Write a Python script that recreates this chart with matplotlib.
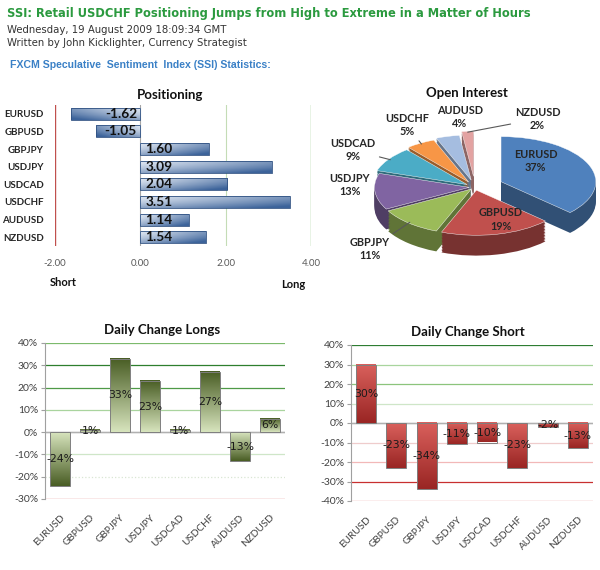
import numpy as np
import matplotlib
matplotlib.use('Agg')
import matplotlib.pyplot as plt
from matplotlib.colors import to_rgb

pairs = ['EURUSD', 'GBPUSD', 'GBPJPY', 'USDJPY', 'USDCAD', 'USDCHF', 'AUDUSD', 'NZDUSD']
positioning = [-1.62, -1.05, 1.60, 3.09, 2.04, 3.51, 1.14, 1.54]
open_interest = [37, 19, 11, 13, 9, 5, 4, 2]
change_longs = [-24, 1, 33, 23, 1, 27, -13, 6]
change_short = [30, -23, -34, -11, -10, -23, -2, -13]

pos_ticks = [-2, 0, 2, 4]
longs_ticks = [-30, -20, -10, 0, 10, 20, 30, 40]
short_ticks = [-40, -30, -20, -10, 0, 10, 20, 30, 40]

W, H = 600, 570
fig = plt.figure(figsize=(W / 100, H / 100), dpi=100)


def fx(px):
    return px / W


def fy(px):
    return 1 - px / H


def box(x0, y0, x1, y1):
    # pixel box (top-left origin) -> figure rect
    return [fx(x0), fy(y1), (x1 - x0) / W, (y1 - y0) / H]


def lerp_img(c0, c1, a):
    c0 = np.array(to_rgb(c0))
    c1 = np.array(to_rgb(c1))
    a = np.clip(a, 0, 1)[..., None]
    return c0 + (c1 - c0) * a


CHART_FONT = ['Lato', 'DejaVu Sans']

# ---- header ----
fig.text(fx(7), fy(13), 'SSI: Retail USDCHF Positioning Jumps from High to Extreme in a Matter of Hours',
         fontsize=8.3, fontweight='bold', color='#2b9a3f', va='center', family='DejaVu Sans')
fig.text(fx(7), fy(30), 'Wednesday, 19 August 2009 18:09:34 GMT', fontsize=7.3, color='#333333',
         va='center', family='DejaVu Sans')
fig.text(fx(7), fy(43), 'Written by John Kicklighter, Currency Strategist', fontsize=7.3,
         color='#333333', va='center', family='DejaVu Sans')
fig.text(fx(10), fy(65), 'FXCM Speculative  Sentiment  Index (SSI) Statistics:', fontsize=7.6,
         fontweight='bold', color='#3a80c6', va='center', family='Liberation Sans')

# ---- positioning ----
axp = fig.add_axes(box(55, 105, 311, 246))
ypos = np.arange(len(pairs))[::-1]
bh = 0.68
for y, v in zip(ypos, positioning):
    left, right = min(0, v), max(0, v)
    tx = np.linspace(0, 1, 60)
    if v < 0:
        tx = tx[::-1]
    ty = np.linspace(1, 0, 20)
    a = 0.1 + 0.55 * tx[None, :] + 0.45 * ty[:, None] ** 1.5
    axp.imshow(lerp_img('#eef3fa', '#3c639a', a), extent=[left, right, y - bh / 2, y + bh / 2],
               origin='lower', aspect='auto', zorder=2, interpolation='bilinear')
axp.barh(ypos, positioning, height=bh, color='none', edgecolor='#2f5182', lw=0.6, zorder=3)
for y, v in zip(ypos, positioning):
    if v < 0:
        axp.text(-0.08, y, f'{v:.2f}', ha='right', va='center', fontsize=9.8, fontweight='bold',
                 color='#111111', zorder=4, family=CHART_FONT)
    else:
        axp.text(0.12, y, f'{v:.2f}', ha='left', va='center', fontsize=9.8, fontweight='bold',
                 color='#111111', zorder=4, family=CHART_FONT)
axp.axvline(-2, color='#c0504d', lw=1.0, zorder=1)
axp.axvline(0, color='#a6a6a6', lw=0.8, zorder=1)
axp.axvline(2, color='#c4dcb6', lw=0.8, zorder=1)
axp.axvline(4, color='#8cc47c', lw=1.0, zorder=1)
axp.set_xlim(-2, 4)
axp.set_ylim(-0.5, len(pairs) - 0.5)
axp.set_xticks(pos_ticks)
axp.set_xticklabels([f'{t:.2f}' for t in pos_ticks], fontsize=7, color='#595959', family=CHART_FONT)
axp.set_yticks(ypos)
axp.set_yticklabels(pairs, fontsize=7, fontweight='bold', color='#262626', family=CHART_FONT)
axp.tick_params(length=0)
axp.tick_params(axis='x', pad=9)
axp.tick_params(axis='y', pad=8)
for s in axp.spines.values():
    s.set_visible(False)
fig.text(fx(170), fy(95), 'Positioning', fontsize=9.5, fontweight='bold', ha='center', va='center',
         color='#111111', family=CHART_FONT)
fig.text(fx(63), fy(282), 'Short', fontsize=8, fontweight='bold', ha='center', va='center',
         color='#111111', family=CHART_FONT)
fig.text(fx(293), fy(284), 'Long', fontsize=8, fontweight='bold', ha='center', va='center',
         color='#111111', family=CHART_FONT)

# ---- open interest pie ----
axo = fig.add_axes(box(330, 91, 600, 285))
pie_colors = ['#4f81bd', '#c0504d', '#9bbb59', '#8064a2', '#4bacc6', '#f79646', '#a5bde0', '#e3a3a2']
side_colors = [tuple(np.array(to_rgb(c)) * 0.62) for c in pie_colors]
explode = [0.3, 0.07, 0.06, 0.06, 0.1, 0.13, 0.16, 0.24]
depth = 0.45
for d in np.linspace(depth, 0.02, 14):
    axo.pie(open_interest, colors=side_colors, explode=explode, startangle=90, counterclock=False,
            center=(0, -d), wedgeprops=dict(linewidth=0))
wedges, _ = axo.pie(open_interest, colors=pie_colors, explode=explode, startangle=90,
                    counterclock=False, center=(0, 0), wedgeprops=dict(linewidth=0.3, edgecolor='#ffffff'))
label_xy = [(0.64, 0.58), (0.27, -0.72), (-1.11, -1.38), (-1.32, 0.04),
            (-1.29, 0.82), (-0.72, 1.38), (-0.16, 1.55), (0.66, 1.51)]
leader = [False, False, True, False, True, True, False, True]
for w, name, val, xy, ld in zip(wedges, pairs, open_interest, label_xy, leader):
    txt = f'{name}\n{val}%'
    kw = dict(ha='center', va='center', fontsize=7.8, fontweight='bold', color='#262626',
              family=CHART_FONT, linespacing=1.25)
    if ld:
        mid = np.deg2rad((w.theta1 + w.theta2) / 2)
        cx, cy = w.center
        axo.annotate(txt, xy=(cx + 0.98 * np.cos(mid), cy + 0.98 * np.sin(mid)), xytext=xy,
                     arrowprops=dict(arrowstyle='-', color='#595959', lw=0.8, shrinkA=1, shrinkB=0),
                     **kw)
    else:
        axo.text(xy[0], xy[1], txt, **kw)
axo.set_aspect('auto')
axo.set_xlim(-1.53, 1.32)
axo.set_ylim(-2.17, 2.13)
axo.axis('off')
fig.text(fx(467), fy(93), 'Open Interest', fontsize=9.5, fontweight='bold', ha='center', va='center',
         color='#111111', family=CHART_FONT)


# ---- daily change charts ----
def change_chart(ax, values, ticks, grid_colors, light, dark, top_light):
    x = np.arange(len(values))
    bw = 0.66
    for xi, v in zip(x, values):
        ty = np.linspace(0, 1, 40)
        if top_light:
            a = 1 - ty
        elif v >= 0:
            a = ty
        else:
            a = 1 - ty
        img = lerp_img(light, dark, a[:, None] * np.ones((1, 10)))
        ax.imshow(img, extent=[xi - bw / 2, xi + bw / 2, min(0, v), max(0, v)], origin='lower',
                  aspect='auto', zorder=2, interpolation='bilinear')
    ax.bar(x, values, width=bw, color='none', edgecolor='#7f7f7f', lw=0.7, zorder=3)
    for xi, v in zip(x, values):
        ax.text(xi, v / 2, f'{v}%', ha='center', va='center', fontsize=7.8, color='#1a1a1a',
                zorder=4, family='DejaVu Sans')
    for t, c in zip(ticks, grid_colors):
        ls = ':' if c.startswith('dot') else '-'
        c = c.replace('dot', '')
        ax.axhline(t, color=c, lw=0.9, ls=ls, zorder=1)
    ax.axhline(0, color='#b0b0b0', lw=1.0, zorder=1.5)
    ax.set_xlim(-0.5, len(values) - 0.5)
    ax.set_ylim(ticks[0], ticks[-1])
    ax.set_yticks(ticks)
    ax.set_yticklabels([f'{t}%' for t in ticks], fontsize=7.5, color='#404040', family=CHART_FONT)
    ax.set_xticks(x)
    ax.set_xticklabels(pairs, rotation=45, ha='right', rotation_mode='anchor', fontsize=7.2,
                       color='#404040', family=CHART_FONT)
    ax.tick_params(axis='x', length=0, pad=10)
    ax.tick_params(axis='y', length=3, color='#a0a0a0', pad=2)
    for k in ['top', 'right', 'bottom']:
        ax.spines[k].set_visible(False)
    ax.spines['left'].set_color('#a0a0a0')


axl = fig.add_axes(box(45, 343, 285, 499))
change_chart(axl, change_longs, longs_ticks,
             ['#d04a4a', 'dot#d9e6d3', '#cfe6c8', '#b0b0b0', '#a9d49e', '#4f9a47', '#2e7f2e', '#7cba6c'],
             '#d6e3bc', '#4a5e25', False)
fig.text(fx(162), fy(330), 'Daily Change Longs', fontsize=9.5, fontweight='bold', ha='center',
         va='center', color='#111111', family=CHART_FONT)

axs = fig.add_axes(box(351, 345, 593, 501))
change_chart(axs, change_short, short_ticks,
             ['#e07272', '#c83030', '#f2b8b8', '#efcccc', '#b0b0b0', '#cfe6c8', '#8cc47c', '#a8d59e', '#2e7d32'],
             '#d9605c', '#9a2624', True)
fig.text(fx(468), fy(332), 'Daily Change Short', fontsize=9.5, fontweight='bold', ha='center',
         va='center', color='#111111', family=CHART_FONT)

fig.savefig('out.png', dpi=100)
